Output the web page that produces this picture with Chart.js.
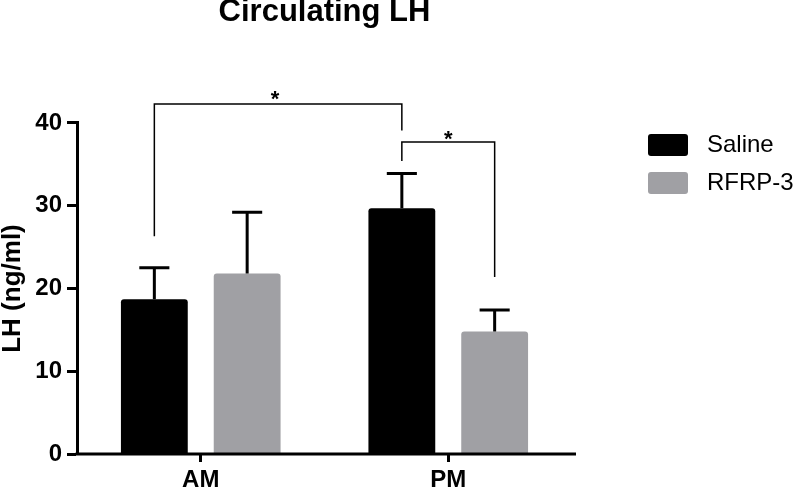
<!DOCTYPE html>
<html><head><meta charset="utf-8">
<script src="https://cdn.jsdelivr.net/npm/chart.js@4.4.1/dist/chart.umd.min.js"></script>
<style>html,body{margin:0;padding:0;background:#fff;} canvas{display:block;}</style>
</head><body>
<canvas id="c" width="800" height="491"></canvas>
<script>
const categories = ['AM', 'PM'];
const seriesNames = ['Saline', 'RFRP-3'];
const salineMean = [18.7, 29.7];
const salineSEM = [3.8, 4.2];
const rfrpMean = [21.8, 14.8];
const rfrpSEM = [7.4, 2.6];
const yTicks = [0, 10, 20, 30, 40];
// significance brackets (endpoints as [dataset, category]; heights in ng/ml)
const bracketFrom = [[0, 0], [0, 1]];
const bracketTo = [[0, 1], [1, 1]];
const bracketTop = [42.3, 37.7];
const bracketLeftEnd = [26.3, 35.4];
const bracketRightEnd = [39.1, 21.4];
const bracketStarAt = [43.6, 38.8];
const bracketLabel = ['*', '*'];

const FONT = "'Liberation Sans', Arial, Helvetica, sans-serif";
const BLACK = '#000000';
const GREY = '#a0a0a4';
Chart.defaults.font.family = FONT;
Chart.defaults.color = '#000';

const errorBars = {
  id: 'errorBars',
  afterDatasetsDraw(chart) {
    const ctx = chart.ctx, y = chart.scales.y;
    const errs = [salineSEM, rfrpSEM];
    chart.data.datasets.forEach((ds, i) => {
      chart.getDatasetMeta(i).data.forEach((bar, j) => {
        const top = y.getPixelForValue(ds.data[j] + errs[i][j]);
        const half = bar.width * 0.225;
        ctx.save();
        ctx.strokeStyle = '#000'; ctx.lineWidth = 3; ctx.lineCap = 'butt';
        ctx.beginPath();
        ctx.moveTo(bar.x, bar.y); ctx.lineTo(bar.x, top - 1.5);
        ctx.moveTo(bar.x - half, top); ctx.lineTo(bar.x + half, top);
        ctx.stroke();
        ctx.restore();
      });
    });
  }
};

const extras = {
  id: 'extras',
  afterDraw(chart) {
    const ctx = chart.ctx, y = chart.scales.y, x = chart.scales.x, ca = chart.chartArea;
    ctx.save();
    // x axis line
    ctx.strokeStyle = '#000'; ctx.lineWidth = 3;
    ctx.beginPath();
    ctx.moveTo(ca.left - 1.5, y.getPixelForValue(0));
    ctx.lineTo(ca.right + 4, y.getPixelForValue(0));
    ctx.stroke();
    // brackets
    ctx.lineWidth = 1.5;
    for (let k = 0; k < bracketTop.length; k++) {
      const a = chart.getDatasetMeta(bracketFrom[k][0]).data[bracketFrom[k][1]];
      const b = chart.getDatasetMeta(bracketTo[k][0]).data[bracketTo[k][1]];
      const yt = y.getPixelForValue(bracketTop[k]);
      ctx.beginPath();
      ctx.moveTo(a.x, y.getPixelForValue(bracketLeftEnd[k]));
      ctx.lineTo(a.x, yt);
      ctx.lineTo(b.x, yt);
      ctx.lineTo(b.x, y.getPixelForValue(bracketRightEnd[k]));
      ctx.stroke();
      ctx.fillStyle = '#000';
      ctx.font = 'bold 22px ' + FONT;
      ctx.textAlign = 'center';
      ctx.textBaseline = 'alphabetic';
      ctx.fillText(bracketLabel[k], (a.x + b.x) / 2 - (k === 0 ? 3 : 0), y.getPixelForValue(bracketStarAt[k]) + 13);
    }
    // legend
    const colors = chart.data.datasets.map(d => d.backgroundColor);
    chart.data.datasets.forEach((ds, i) => {
      const cy = 145 + i * 38;
      ctx.fillStyle = colors[i];
      ctx.beginPath();
      ctx.roundRect(648, cy - 11, 40, 22, 3);
      ctx.fill();
      ctx.fillStyle = '#000';
      ctx.font = '24px ' + FONT;
      ctx.textAlign = 'left';
      ctx.textBaseline = 'middle';
      ctx.fillText(ds.label, 707, cy);
    });
    ctx.restore();
  }
};

new Chart(document.getElementById('c'), {
  type: 'bar',
  data: {
    labels: categories,
    datasets: [
      { label: seriesNames[0], data: salineMean, backgroundColor: BLACK, borderRadius: 3, borderSkipped: 'start' },
      { label: seriesNames[1], data: rfrpMean, backgroundColor: GREY, borderRadius: 3, borderSkipped: 'start' }
    ]
  },
  options: {
    responsive: false,
    animation: false,
    devicePixelRatio: 1,
    layout: { padding: { left: 0, right: 228, top: 0, bottom: 0 } },
    datasets: { bar: { categoryPercentage: 0.75, barPercentage: 0.72 } },
    plugins: {
      legend: { display: false },
      tooltip: { enabled: false },
      title: {
        display: true, text: 'Circulating LH', fullSize: false,
        font: { size: 31, weight: 'bold', lineHeight: 0.774, family: FONT },
        color: '#000',
        padding: { top: 0, bottom: 99 }
      }
    },
    scales: {
      x: {
        offset: true,
        grid: { display: true, drawOnChartArea: false, drawTicks: true, tickLength: 8, tickWidth: 3, tickColor: '#000', offset: false },
        border: { display: false },
        ticks: { font: { size: 24, weight: 'bold' }, color: '#000', padding: 4, maxRotation: 0 },
        afterFit(s) { s.height = 37; }
      },
      y: {
        min: 0, max: 40,
        afterBuildTicks(s) { s.ticks = yTicks.map(v => ({ value: v })); },
        grid: { display: true, drawOnChartArea: false, drawTicks: true, tickLength: 10, tickWidth: 3, tickColor: '#000' },
        border: { display: true, width: 3, color: '#000' },
        ticks: { font: { size: 24, weight: 'bold' }, color: '#000', padding: 5 },
        title: { display: true, text: 'LH (ng/ml)', font: { size: 26, weight: 'bold', lineHeight: 1 }, color: '#000', padding: 0 },
        afterFit(s) { s.width = 77; }
      }
    }
  },
  plugins: [errorBars, extras]
});
</script>
</body></html>
